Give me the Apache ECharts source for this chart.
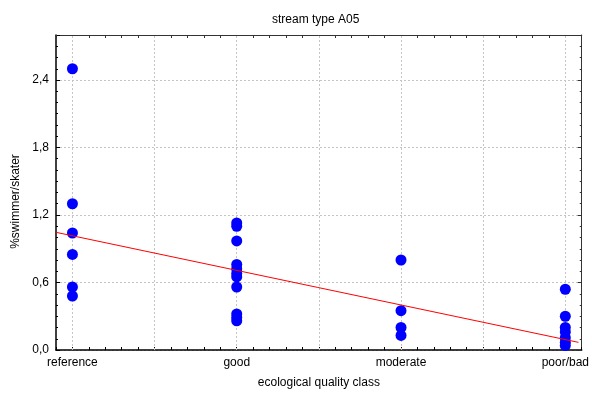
<!DOCTYPE html>
<html>
<head>
<meta charset="utf-8">
<script src="https://cdn.jsdelivr.net/npm/echarts@6/dist/echarts.min.js"></script>
<style>
  html, body { margin: 0; padding: 0; background: #fff; }
  #chart { width: 592px; height: 396px; }
</style>
</head>
<body>
<div id="chart"></div>
<script>
// classes on the x axis (positions 1..4)
var categories = ['reference', 'good', 'moderate', 'poor/bad'];

// %swimmer/skater per site
var referenceVals = [2.50, 1.30, 1.04, 0.85, 0.56, 0.48];
var goodVals = [1.13, 1.10, 0.97, 0.76, 0.72, 0.68, 0.65, 0.56, 0.32, 0.29, 0.26];
var moderateVals = [0.80, 0.35, 0.20, 0.13];
var poorVals = [0.54, 0.30, 0.20, 0.16, 0.11, 0.07, 0.04];

// fitted line end points (x, y)
var fitX = [0.9, 4.08];
var fitY = [1.046, 0.068];

// vertical grid positions
var xGrid = [1, 1.5, 2, 2.5, 3, 3.5, 4];

var groups = [referenceVals, goodVals, moderateVals, poorVals];
var points = [];
groups.forEach(function (vals, i) {
  vals.forEach(function (v) { points.push([i + 1, v]); });
});
var fitLine = fitX.map(function (x, i) { return [x, fitY[i]]; });

var myChart = echarts.init(document.getElementById('chart'));
var font = 'Liberation Sans, Arial, sans-serif';

var option = {
  backgroundColor: '#FFFFFF',
  animation: false,
  textStyle: { fontFamily: font },
  title: {
    text: 'stream type A05',
    left: 267,
    top: 9,
    textStyle: { fontSize: 12, fontWeight: 'normal', color: '#000', fontFamily: font }
  },
  grid: { left: 56, right: 10, top: 35, bottom: 46 },
  xAxis: [
    {
      type: 'value',
      min: 0.9,
      max: 4.1,
      interval: 0.1,
      name: 'ecological quality class',
      nameLocation: 'middle',
      nameGap: 27,
      nameTextStyle: { fontSize: 12, color: '#000', fontFamily: font },
      axisLine: { lineStyle: { color: '#000', width: 1.5 } },
      axisTick: { inside: true, length: 3, lineStyle: { color: '#000' } },
      splitLine: { show: false },
      axisLabel: {
        margin: 7,
        fontSize: 12,
        color: '#000',
        fontFamily: font,
        formatter: function (v) {
          var r = Math.round(v);
          if (Math.abs(v - r) < 1e-6 && r >= 1 && r <= 4) return categories[r - 1];
          return '';
        }
      }
    },
    {
      type: 'value',
      position: 'top',
      min: 0.9,
      max: 4.1,
      interval: 0.1,
      axisLine: { onZero: false, lineStyle: { color: '#333', width: 1 } },
      axisTick: { inside: true, length: 3, lineStyle: { color: '#333' } },
      axisLabel: { show: false },
      splitLine: { show: false }
    }
  ],
  yAxis: [
    {
      type: 'value',
      min: 0,
      max: 2.8,
      interval: 0.6,
      name: '%swimmer/skater',
      nameLocation: 'middle',
      nameGap: 31,
      nameTextStyle: { fontSize: 12, color: '#000', fontFamily: font, padding: [0, 18, 0, 0] },
      axisLine: { show: true, lineStyle: { color: '#000', width: 1.5 } },
      axisTick: { show: true, inside: true, length: 4, lineStyle: { color: '#000' } },
      minorTick: { show: true, splitNumber: 6, length: 2, lineStyle: { color: '#000' } },
      splitLine: { show: true, lineStyle: { color: '#c4c4c4', type: [2, 2], width: 1 } },
      axisLabel: {
        margin: 7,
        fontSize: 12,
        color: '#000',
        fontFamily: font,
        showMaxLabel: false,
        formatter: function (v) { return v.toFixed(1).replace('.', ','); }
      }
    },
    {
      type: 'value',
      position: 'right',
      min: 0,
      max: 2.8,
      interval: 0.6,
      axisLine: { show: true, onZero: false, lineStyle: { color: '#333', width: 1 } },
      axisTick: { show: true, inside: true, length: 4, lineStyle: { color: '#333' } },
      minorTick: { show: true, splitNumber: 6, length: 2, lineStyle: { color: '#333' } },
      axisLabel: { show: false },
      splitLine: { show: false }
    }
  ],
  series: [
    {
      type: 'scatter',
      data: points,
      symbolSize: 11,
      itemStyle: { color: '#0000ff', opacity: 1 },
      z: 3,
      markLine: {
        silent: true,
        symbol: 'none',
        label: { show: false },
        lineStyle: { color: '#c4c4c4', type: [2, 2], width: 1 },
        data: xGrid.map(function (x) { return { xAxis: x }; }),
        z: 1
      }
    },
    {
      type: 'line',
      data: fitLine,
      showSymbol: false,
      symbol: 'none',
      lineStyle: { color: '#ff0000', width: 1 },
      z: 4
    }
  ]
};

myChart.setOption(option);
</script>
</body>
</html>
